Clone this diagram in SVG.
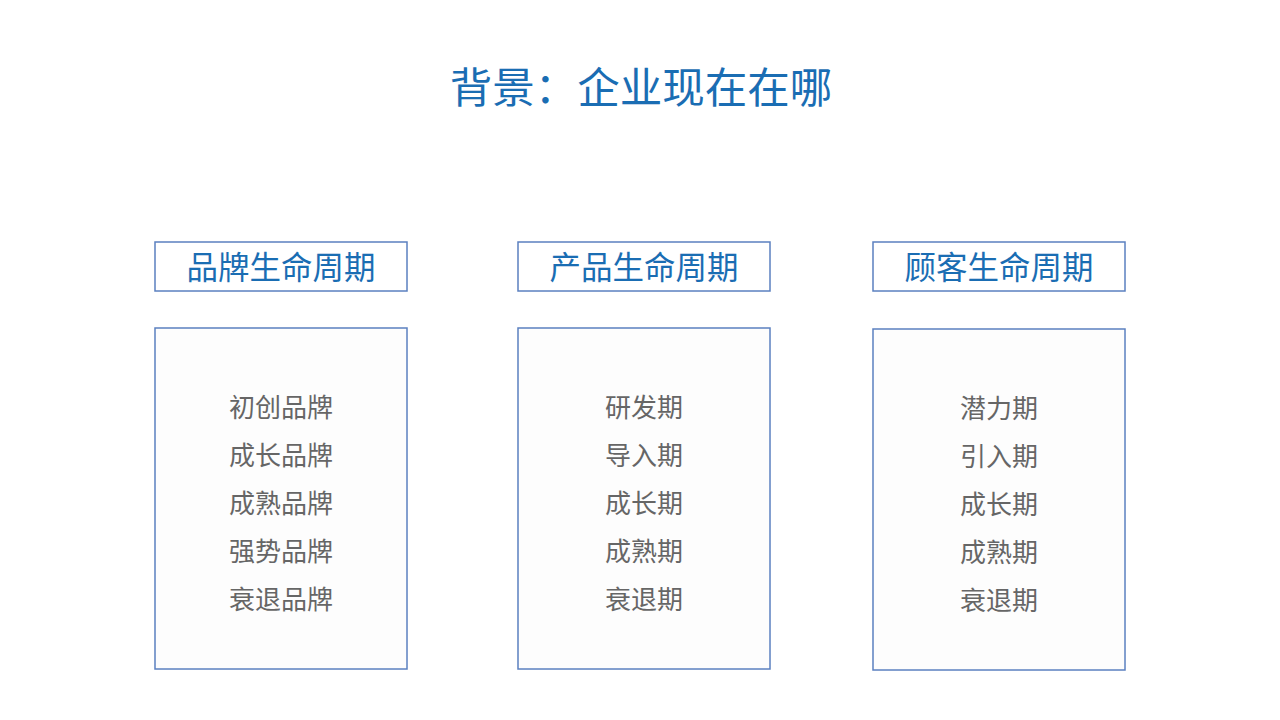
<svg xmlns="http://www.w3.org/2000/svg" width="1280" height="720" viewBox="0 0 1280 720">
<style>
.t{font-family:"Noto Sans CJK SC","Noto Sans",sans-serif;text-anchor:middle}
.title{font-size:42.5px;fill:#1a6db3;font-weight:400}
.hd{font-size:31.5px;fill:#1a6db3}
.it{font-size:26px;fill:#666666}
.box{fill:#ffffff;stroke:#5b80c0;stroke-width:1.5}
.body{fill:#fdfdfd;stroke:#5b80c0;stroke-width:1.5}
</style>
<rect width="1280" height="720" fill="#ffffff"/>
<text id="title" class="t title" x="641" y="103">背景：企业现在在哪</text>
<g id="brand">
<rect class="box" x="155" y="242" width="252" height="49"/>
<text class="t hd" x="281" y="279">品牌生命周期</text>
<rect class="body" x="155" y="328" width="252" height="341"/>
<text class="t it" x="281" y="417">初创品牌</text>
<text class="t it" x="281" y="465">成长品牌</text>
<text class="t it" x="281" y="513">成熟品牌</text>
<text class="t it" x="281" y="561">强势品牌</text>
<text class="t it" x="281" y="609">衰退品牌</text>
</g>
<g id="product">
<rect class="box" x="518" y="242" width="252" height="49"/>
<text class="t hd" x="644" y="279">产品生命周期</text>
<rect class="body" x="518" y="328" width="252" height="341"/>
<text class="t it" x="644" y="417">研发期</text>
<text class="t it" x="644" y="465">导入期</text>
<text class="t it" x="644" y="513">成长期</text>
<text class="t it" x="644" y="561">成熟期</text>
<text class="t it" x="644" y="609">衰退期</text>
</g>
<g id="customer">
<rect class="box" x="873" y="242" width="252" height="49"/>
<text class="t hd" x="999" y="279">顾客生命周期</text>
<rect class="body" x="873" y="329" width="252" height="341"/>
<text class="t it" x="999" y="418">潜力期</text>
<text class="t it" x="999" y="466">引入期</text>
<text class="t it" x="999" y="514">成长期</text>
<text class="t it" x="999" y="562">成熟期</text>
<text class="t it" x="999" y="610">衰退期</text>
</g>
<g id="connectors"></g>
</svg>
